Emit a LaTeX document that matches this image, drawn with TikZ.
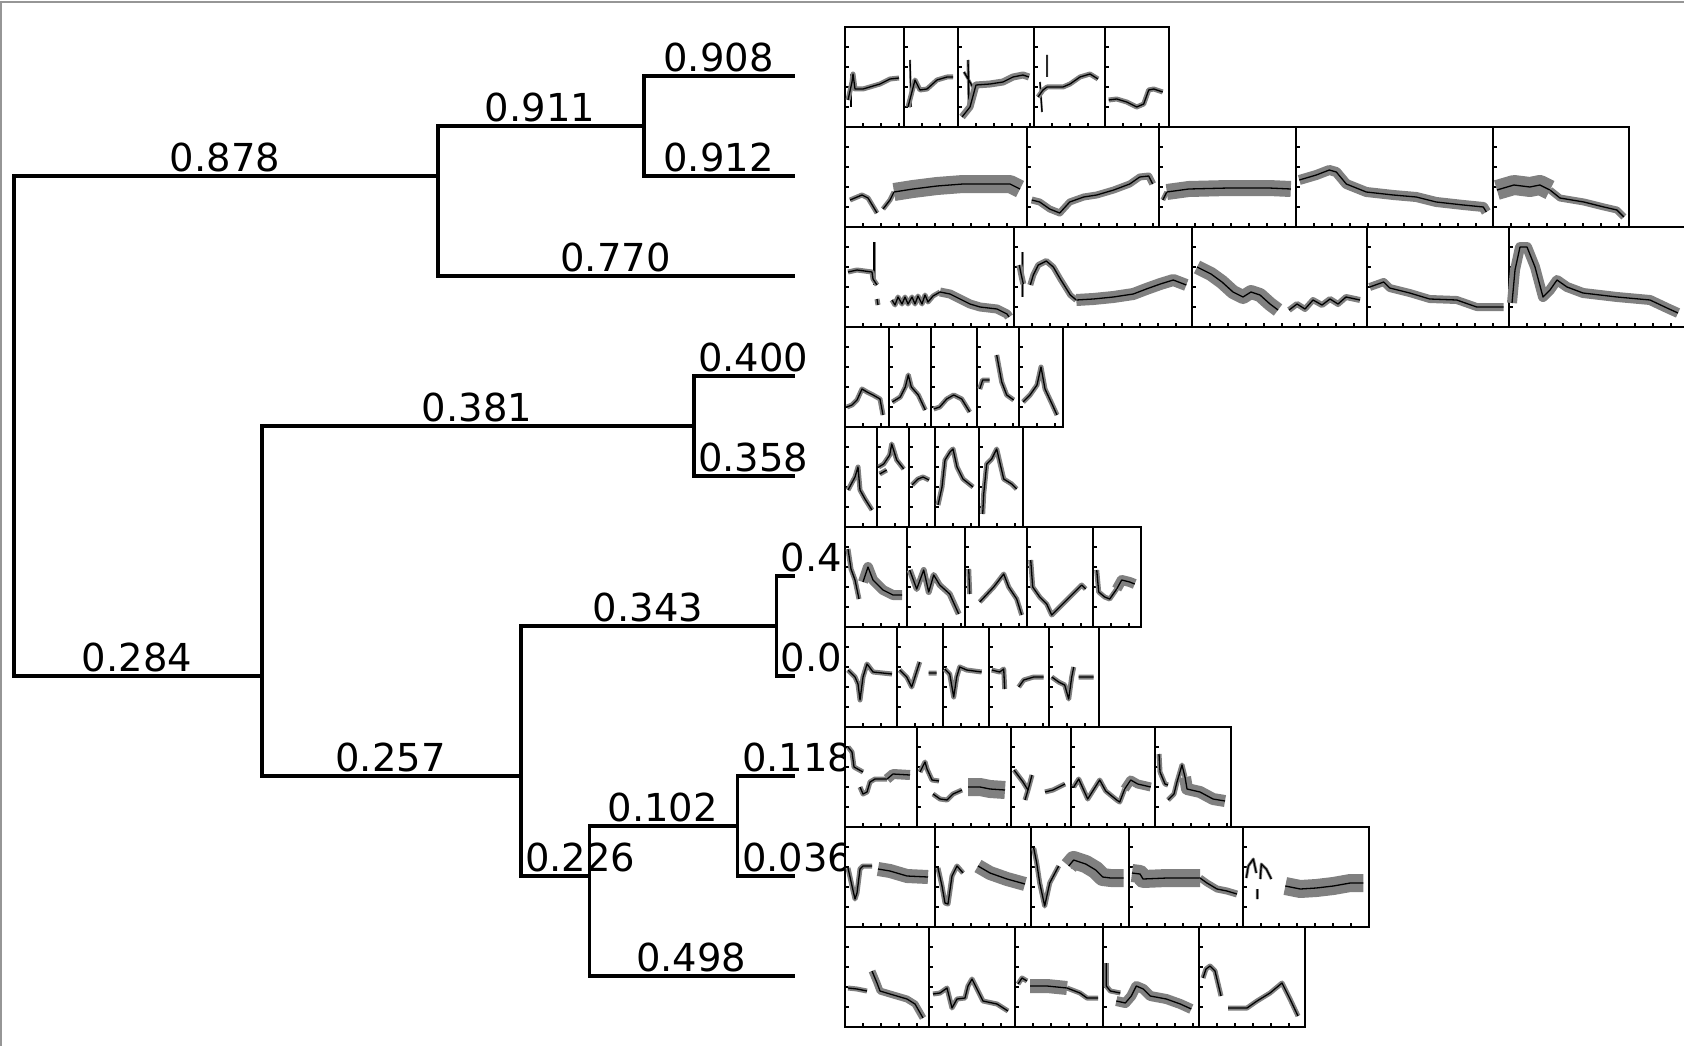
\documentclass[tikz,border=0pt]{standalone}
\usepackage{fontspec}
\setmainfont{DejaVu Sans}
\usepackage{tikz}
\usetikzlibrary{calc}
\usetikzlibrary{positioning}

\definecolor{bandgray}{RGB}{128,128,128}
\definecolor{framegray}{RGB}{150,150,150}

% one small panel: left, right, top (pixels, y downwards)
\newcommand{\tspanel}[3]{%
  \draw[panel,fill=white] (#1,#3) rectangle (#2,#3+100);
  \foreach \t in {20,40,60,80} \draw[panel] (#1,#3+\t) -- ++(4,0);
  \pgfmathtruncatemacro{\tsn}{(#2-#1-2)/18}
  \foreach \k in {1,...,\tsn} \draw[panel] (#1+18*\k,#3+100) -- ++(0,-4);
}
% mean curve with its spread, drawn relative to the panel corner
\newcommand{\tstrace}[4][5]{%
  \begin{scope}[shift={(#2,#3)}]
    \draw[band,line width=#1pt] #4;
    \draw[trace] #4;
  \end{scope}}

\begin{document}
\begin{tikzpicture}[x=1pt,y=-1pt]
\tikzstyle{branch}=[line width=3.3pt,black]
\tikzstyle{lbl}=[anchor=base,inner sep=0pt,font=\fontsize{38.5}{40}\selectfont]
\tikzstyle{lblw}=[lbl,anchor=base west]
\tikzstyle{panel}=[line width=1.8pt,black]
\tikzstyle{band}=[bandgray,line join=round]
\tikzstyle{trace}=[black,line width=1.3pt,line join=round]
\useasboundingbox (0,0) rectangle (1684,1046);
\draw[framegray,line width=2pt] (1,1046) -- (1,2.5) -- (1684,2.5);

% tree
\coordinate (root) at (14,426);
\coordinate (nA) at (438,176);
\coordinate (nB) at (644,126);
\coordinate (nC) at (262,676);
\coordinate (nD) at (694,426);
\coordinate (nE) at (521,776);
\coordinate (nF) at (776.5,626);
\coordinate (nG) at (589.6,876);
\coordinate (nH) at (737.8,826);
\foreach \i in {1,...,10} \coordinate (l\i) at (795,{100*\i-24});

\draw[branch] (root) |- (nA);
\draw[branch] (root) |- (nC);
\draw[branch] (nA) |- (nB);
\draw[branch] (nA) |- (l3);
\draw[branch] (nB) |- (l1);
\draw[branch] (nB) |- (l2);
\draw[branch] (nC) |- (nD);
\draw[branch] (nC) |- (nE);
\draw[branch] (nD) |- (l4);
\draw[branch] (nD) |- (l5);
\draw[branch] (nE) |- (nF);
\draw[branch] (nE) |- (nG);
\draw[branch] (nF) |- (l6);
\draw[branch] (nF) |- (l7);
\draw[branch] (nG) |- (nH);
\draw[branch] (nG) |- (l10);
\draw[branch] (nH) |- (l8);
\draw[branch] (nH) |- (l9);

\node[lbl] (w878) at (225,171.7) {0.878};
\node[lbl] (w911) at (540,121.7) {0.911};
\node[lbl] (w908) at (718.5,71.7) {0.908};
\node[lbl] (w912) at (718.5,171.7) {0.912};
\node[lbl] (w770) at (615.5,271.7) {0.770};
\node[lbl] (w284) at (137,671.7) {0.284};
\node[lbl] (w381) at (477,421.7) {0.381};
\node[lblw] (w400) at (698,371.7) {0.400};
\node[lblw] (w358) at (698,471.7) {0.358};
\node[lbl] (w257) at (390.5,771.7) {0.257};
\node[lbl] (w343) at (648,621.7) {0.343};
\node[lblw] (w4) at (780.5,571.7) {0.4};
\node[lblw] (w0) at (780.5,671.7) {0.0};
\node[lblw] (w226) at (525,871.7) {0.226};
\node[lbl] (w102) at (662.7,821.7) {0.102};
\node[lblw] (w118) at (741.8,771.7) {0.118};
\node[lblw] (w036) at (741.8,871.7) {0.036};
\node[lbl] (w498) at (691.3,971.7) {0.498};

% row 1
\tspanel{845}{904}{27}
\tstrace[2]{845}{27}{(6,47) -- (6,80)}
\tstrace{845}{27}{(3,73) -- (7,55) -- (8,47) -- (10,62) -- (18,62) -- (35,57) -- (45,52) -- (54,51)}
\tspanel{904}{958}{27}
\tstrace[2]{904}{27}{(6,33) -- (7,80)}
\tstrace{904}{27}{(4,80) -- (11,53) -- (16,63) -- (23,62) -- (33,53) -- (43,50) -- (49,50)}
\tspanel{958}{1034}{27}
\tstrace[3]{958}{27}{(10,33) -- (11,80) (6,45) -- (16,62)}
\tstrace[7]{958}{27}{(4,90) -- (12,80) -- (18,58) -- (32,57) -- (45,55) -- (55,50) -- (65,48) -- (71,50)}
\tspanel{1034}{1104.7}{27}
\tstrace[2]{1034}{27}{(13,28) -- (13,50) (6,55) -- (8,85)}
\tstrace{1034}{27}{(4,70) -- (9,63) -- (13,60) -- (29,60) -- (36,57) -- (46,50) -- (56,47) -- (64,52)}
\tspanel{1104.7}{1169}{27}
\tstrace{1104.7}{27}{(4,73) -- (12,72) -- (22,75) -- (32,80) -- (39,77) -- (44,63) -- (49,62) -- (58,65)}

% row 2
\tspanel{845}{1026.7}{127}
\tstrace{845}{127}{(5,73) -- (17,68) -- (23,71) -- (32,86) (38,82) -- (45,73) -- (49,65)}
\tstrace[18]{845}{127}{(49,65) -- (68,62) -- (92,59) -- (118,57) -- (145,57) -- (165,57) -- (175,62)}
\tspanel{1026.7}{1158.8}{127}
\tstrace[7]{1026.7}{127}{(5,73) -- (13,75) -- (23,82) -- (33,86) -- (43,75) -- (57,70) -- (70,68) -- (87,63) -- (103,57) -- (113,50) -- (122,49) -- (126,57)}
\tspanel{1158.8}{1296.3}{127}
\tstrace{1158.8}{127}{(4,73) -- (8,65)}
\tstrace[16]{1158.8}{127}{(8,65) -- (30,62) -- (70,61) -- (110,61) -- (132,62)}
\tspanel{1296.3}{1492.9}{127}
\tstrace[10]{1296.3}{127}{(3,53) -- (20,48) -- (33,43) -- (40,45) -- (50,57) -- (70,65) -- (97,68) -- (120,70) -- (140,75) -- (167,78) -- (187,80) -- (190,85)}
\tspanel{1492.9}{1629.3}{127}
\tstrace[20]{1492.9}{127}{(4,63) -- (21,58) -- (37,60) -- (47,58) -- (57,63)}
\tstrace[7]{1492.9}{127}{(57,63) -- (67,71) -- (91,75) -- (111,80) -- (124,83) -- (131,90)}

% row 3
\tspanel{845}{1014.3}{227}
\tstrace[3]{845}{227}{(29,15) -- (29,58)}
\tstrace{845}{227}{(3,45) -- (12,43) -- (27,45) -- (28,52) -- (32,58) (32,72) -- (33,78)}
\tstrace{845}{227}{(47,73) -- (50,78) -- (53,70) -- (57,77) -- (60,70) -- (63,77) -- (67,70) -- (70,77) -- (73,69) -- (77,77) -- (80,68) -- (83,75) -- (88,69) -- (95,65)}
\tstrace[9]{845}{227}{(95,65) -- (105,67) -- (115,72) -- (125,77) -- (135,80) -- (152,82) -- (162,87) -- (164,90)}
\tspanel{1014.3}{1192}{227}
\tstrace[3]{1014.3}{227}{(8,25) -- (8,70)}
\tstrace[6]{1014.3}{227}{(5,38) -- (7,48) -- (9,57) (16,58) -- (19,48) -- (24,38) -- (32,34) -- (39,40) -- (46,52) -- (56,68) -- (62,73)}
\tstrace[12]{1014.3}{227}{(62,73) -- (79,72) -- (99,70) -- (119,67) -- (132,62) -- (146,57) -- (159,53) -- (172,58)}
\tspanel{1192}{1366.7}{227}
\tstrace[14]{1192}{227}{(5,40) -- (19,47) -- (30,55) -- (41,65) -- (51,70) -- (59,65) -- (68,68) -- (78,77) -- (86,83)}
\tstrace[6]{1192}{227}{(97,83) -- (105,77) -- (113,82) -- (121,73) -- (130,78) -- (138,72) -- (146,77) -- (154,70) -- (168,73)}
\tspanel{1366.7}{1509}{227}
\tstrace[8]{1366.7}{227}{(3,60) -- (17,55) -- (23,61) -- (43,66) -- (63,72) -- (90,73) -- (110,80) -- (137,80)}
\tspanel{1509}{1700}{227}
\tstrace[10]{1509}{227}{(3,76) -- (6,43) -- (11,20) -- (18,20) -- (26,40) -- (34,70) -- (41,63) -- (48,53) -- (58,60) -- (74,66) -- (108,70) -- (141,73) -- (158,81) -- (169,86)}

% row 4
\tspanel{845}{889.3}{327}
\tstrace{845}{327}{(2,80) -- (7,78) -- (12,73) -- (17,62) -- (22,65) -- (28,68) -- (35,72) -- (38,88)}
\tspanel{889.3}{930.7}{327}
\tstrace{889.3}{327}{(3,75) -- (11,70) -- (16,60) -- (19,48) -- (22,60) -- (29,68) -- (36,83)}
\tspanel{930.7}{976.7}{327}
\tstrace{930.7}{327}{(3,82) -- (9,80) -- (16,72) -- (23,68) -- (31,72) -- (39,85)}
\tspanel{976.7}{1019}{327}
\tstrace{976.7}{327}{(3,62) -- (6,53) -- (13,53) (20,28) -- (25,55) -- (30,68) -- (37,73)}
\tspanel{1019}{1062.7}{327}
\tstrace{1019}{327}{(4,75) -- (11,68) -- (18,58) -- (22,40) -- (26,62) -- (33,77) -- (38,88)}

% row 5
\tspanel{845}{876.7}{427}
\tstrace{845}{427}{(3,63) -- (10,50) -- (13,40) -- (15,63) -- (20,72) -- (27,83)}
\tspanel{876.7}{909}{427}
\tstrace{876.7}{427}{(2,40) -- (7,37) -- (13,28) -- (15,17) -- (20,33) -- (27,42) (3,47) -- (10,43)}
\tspanel{909}{935}{427}
\tstrace{909}{427}{(3,58) -- (9,52) -- (14,50) -- (20,53)}
\tspanel{935}{978.7}{427}
\tstrace{935}{427}{(3,78) -- (7,60) -- (10,33) -- (15,25) -- (18,22) -- (22,40) -- (28,52) -- (38,60)}
\tspanel{978.7}{1023.3}{427}
\tstrace{978.7}{427}{(4,87) -- (5,67) -- (8,37) -- (13,32) -- (18,22) -- (25,52) -- (33,57) -- (38,62)}

% row 6
\tspanel{845}{906.7}{527}
\tstrace{845}{527}{(3,22) -- (6,42) -- (10,53) -- (14,72)}
\tstrace[10]{845}{527}{(18,55) -- (23,40) -- (28,53) -- (38,63) -- (48,68) -- (57,68)}
\tspanel{906.7}{964.7}{527}
\tstrace[6]{906.7}{527}{(3,43) -- (10,62) -- (17,43) -- (22,65) -- (27,48) -- (33,58) -- (43,67) -- (52,87)}
\tspanel{964.7}{1026.7}{527}
\tstrace{964.7}{527}{(4,42) -- (5,67) (15,75) -- (29,60) -- (39,47) -- (44,60) -- (52,72) -- (57,88)}
\tspanel{1026.7}{1092.7}{527}
\tstrace{1026.7}{527}{(4,33) -- (6,60) -- (13,70) -- (20,77) -- (25,88) -- (30,83) -- (40,73) -- (55,58) -- (59,62)}
\tspanel{1092.7}{1141}{527}
\tstrace{1092.7}{527}{(4,43) -- (6,65) -- (12,70) -- (17,72) -- (24,62)}
\tstrace[10]{1092.7}{527}{(24,62) -- (29,53) -- (37,55) -- (42,57)}

% row 7
\tspanel{845}{896.7}{627}
\tstrace{845}{627}{(3,43) -- (10,50) -- (13,57) -- (15,73) -- (18,50) -- (22,37) -- (28,45) -- (47,47)}
\tspanel{896.7}{942.7}{627}
\tstrace{896.7}{627}{(3,43) -- (10,50) -- (15,60) -- (23,35) (32,46) -- (40,46)}
\tspanel{942.7}{988.7}{627}
\tstrace{942.7}{627}{(2,42) -- (7,47) -- (11,70) -- (14,50) -- (17,40) -- (24,43) -- (39,45)}
\tspanel{988.7}{1048.7}{627}
\tstrace{988.7}{627}{(3,43) -- (11,45) -- (15,42) -- (16,62) (30,60) -- (35,53) -- (45,50) -- (55,50)}
\tspanel{1048.7}{1098.7}{627}
\tstrace{1048.7}{627}{(3,50) -- (10,55) -- (16,58) -- (20,72) -- (23,50) -- (25,40) (30,50) -- (45,50)}

% row 8
\tspanel{845}{917}{727}
\tstrace{845}{727}{(3,20) -- (7,25) -- (9,40) -- (18,45) (15,60) -- (18,67) -- (22,65) -- (25,55) -- (30,52) -- (42,52)}
\tstrace[10]{845}{727}{(42,52) -- (48,47) -- (65,48)}
\tspanel{917}{1011}{727}
\tstrace{917}{727}{(3,45) -- (8,35) -- (10,42) -- (15,53) -- (22,54) (16,67) -- (23,72) -- (30,73) -- (36,67) -- (45,63)}
\tstrace[18]{917}{727}{(51,60) -- (63,60) -- (73,62) -- (88,63)}
\tspanel{1011}{1070.7}{727}
\tstrace{1011}{727}{(3,43) -- (12,55) -- (17,63) -- (14,73) (21,48) -- (17,63) (34,65) -- (42,63) -- (54,57)}
\tspanel{1070.7}{1155}{727}
\tstrace{1070.7}{727}{(3,60) -- (8,52) -- (17,72) -- (29,53) -- (35,64) -- (46,73) -- (49,75) -- (54,62)}
\tstrace[9]{1070.7}{727}{(54,62) -- (60,53) -- (67,57) -- (80,60)}
\tspanel{1155}{1231}{727}
\tstrace{1155}{727}{(4,27) -- (5,45) -- (10,57) -- (13,58) (13,73) -- (19,67) -- (22,55) -- (27,38) -- (30,50)}
\tstrace[12]{1155}{727}{(30,50) -- (32,62) -- (45,65) -- (58,72) -- (70,74)}

% row 9
\tspanel{845}{935}{827}
\tstrace{845}{827}{(3,41) -- (7,59) -- (10,72) -- (12,66) -- (15,42) -- (18,39) -- (27,39)}
\tstrace[14]{845}{827}{(33,42) -- (45,44) -- (62,49) -- (83,50)}
\tspanel{935}{1030.7}{827}
\tstrace{935}{827}{(3,41) -- (7,59) -- (10,76) -- (13,77) -- (17,49) -- (22,39) -- (28,46)}
\tstrace[14]{935}{827}{(43,39) -- (55,46) -- (72,52) -- (90,57)}
\tspanel{1030.7}{1129}{827}
\tstrace{1030.7}{827}{(3,21) -- (6,36) -- (9,56) -- (14,79) -- (19,56) -- (28,39)}
\tstrace[18]{1030.7}{827}{(38,39) -- (43,33) -- (55,37) -- (65,43) -- (72,50) -- (80,51) -- (93,51)}
\tspanel{1129}{1243.3}{827}
\tstrace[18]{1129}{827}{(3,46) -- (11,47) -- (14,52) -- (38,51) -- (71,51)}
\tstrace[7]{1129}{827}{(71,51) -- (78,56) -- (88,62) -- (98,64) -- (108,67)}
\tspanel{1243.3}{1369.3}{827}
\tstrace[3]{1243.3}{827}{(3,51) -- (5,39) -- (10,32) -- (13,46) (14,62) -- (14,72) (17,52) -- (18,37) -- (23,42) -- (28,52)}
\tstrace[18]{1243.3}{827}{(42,59) -- (57,62) -- (73,61) -- (90,59) -- (107,56) -- (120,56)}

% row 10
\tspanel{845}{929}{927}
\tstrace{845}{927}{(3,61) -- (12,62) -- (22,64)}
\tstrace[7]{845}{927}{(27,44) -- (32,56) -- (35,64) -- (45,67) -- (62,72) -- (70,77) -- (78,91)}
\tspanel{929}{1015}{927}
\tstrace{929}{927}{(4,67) -- (11,66) -- (18,61) -- (23,81) -- (28,72) -- (36,71) -- (39,59) -- (43,52) -- (48,62) -- (54,74) -- (68,77) -- (79,84)}
\tspanel{1015}{1103.3}{927}
\tstrace{1015}{927}{(3,57) -- (7,51) -- (12,54)}
\tstrace[14]{1015}{927}{(15,59) -- (32,59) -- (52,61)}
\tstrace{1015}{927}{(52,61) -- (65,66) -- (72,71) -- (83,71)}
\tspanel{1103.3}{1199}{927}
\tstrace{1103.3}{927}{(3,36) -- (3,59) -- (7,64) -- (17,66)}
\tstrace[10]{1103.3}{927}{(13,74) -- (22,76) -- (28,69) -- (33,59) -- (40,62) -- (47,69) -- (63,72) -- (77,77) -- (88,82)}
\tspanel{1199}{1305}{927}
\tstrace{1199}{927}{(4,51) -- (7,42) -- (11,39) -- (16,44) -- (22,69) (29,81) -- (48,81) -- (58,74) -- (71,66) -- (83,56) -- (91,72) -- (99,89)}
\end{tikzpicture}
\end{document}
